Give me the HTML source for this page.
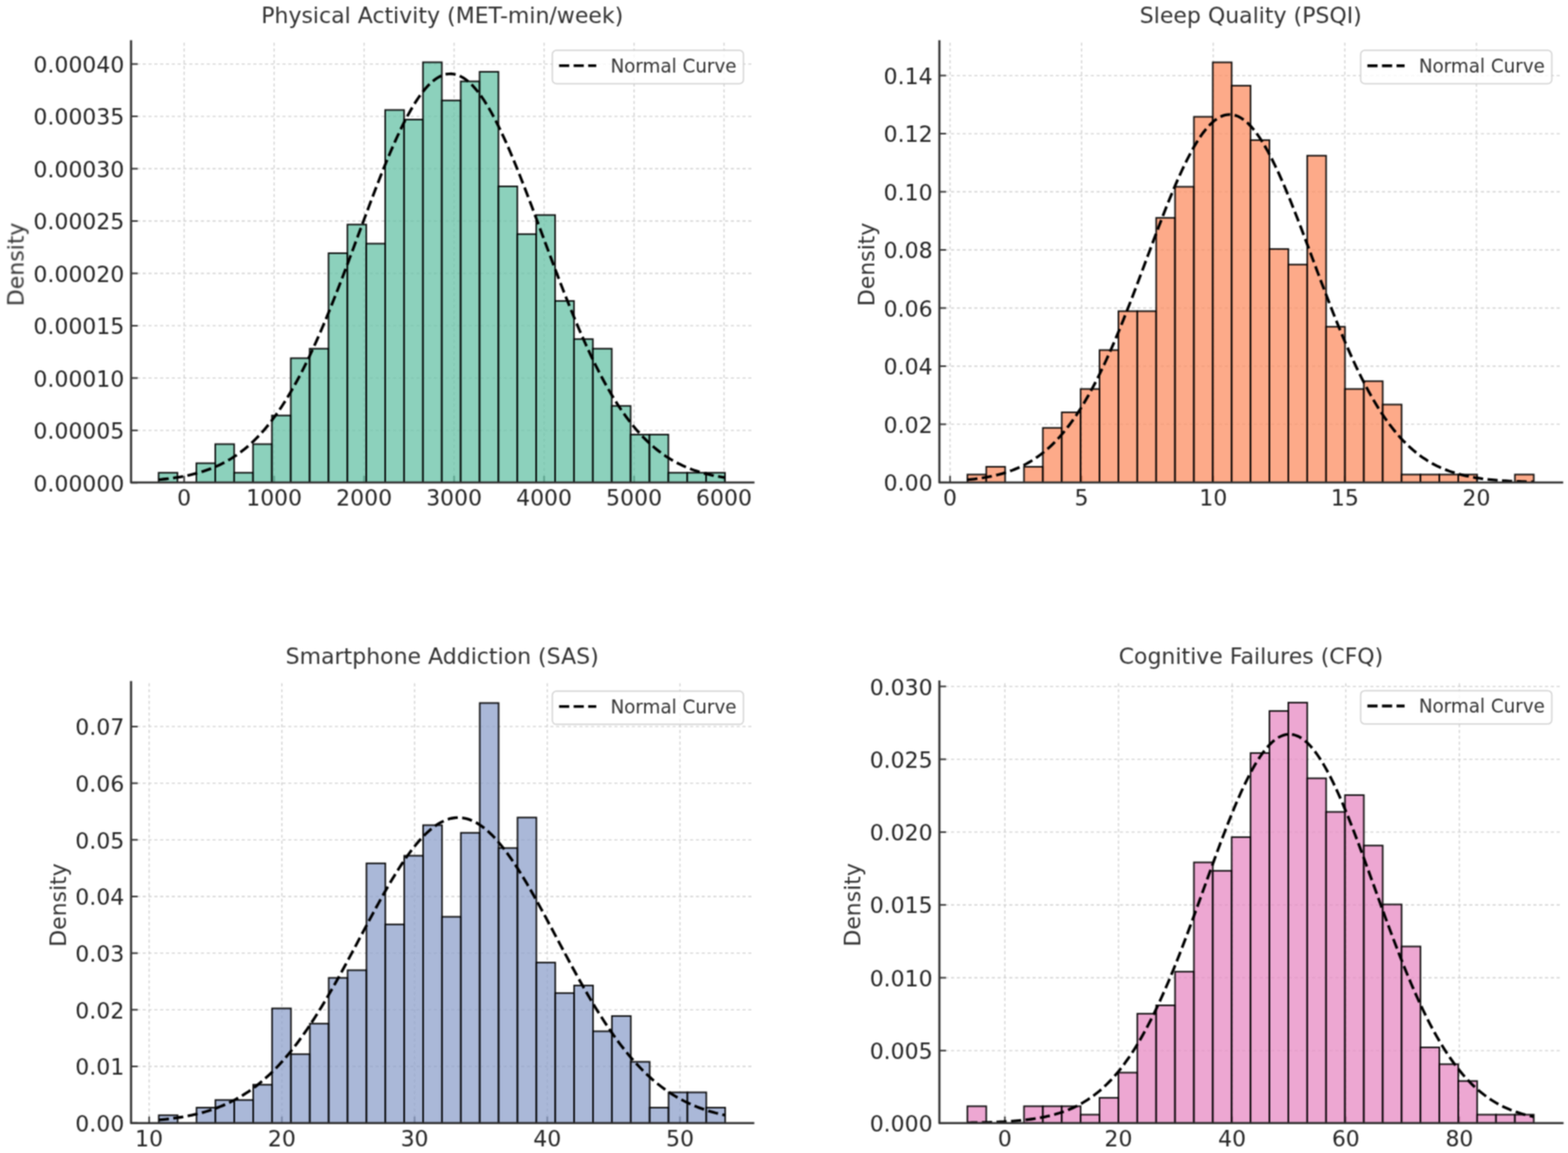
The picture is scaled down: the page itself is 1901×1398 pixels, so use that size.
<!DOCTYPE html>
<html><head><meta charset="utf-8"><title>Histograms</title>
<style>html,body{margin:0;padding:0;background:#fff;overflow:hidden;} svg{display:block;}</style>
</head><body>
<svg width="1901" height="1398" viewBox="0 0 1901 1398" font-family="'DejaVu Sans', 'Liberation Sans', sans-serif">
<rect x="0" y="0" width="1901" height="1398" fill="#ffffff"/>
<defs><filter id="b" x="0" y="0" width="1901" height="1398" filterUnits="userSpaceOnUse" color-interpolation-filters="sRGB"><feConvolveMatrix order="3" kernelMatrix="1 2.0 1 2.0 4.0 2.0 1 2.0 1" divisor="16.0" edgeMode="duplicate"/></filter></defs>
<g filter="url(#b)">
<g><line x1="158.90" y1="585.30" x2="913.40" y2="585.30" stroke="#cfcfcf" stroke-width="1.35" stroke-dasharray="3.7 3.36" fill="none"/>
<line x1="158.90" y1="521.84" x2="913.40" y2="521.84" stroke="#cfcfcf" stroke-width="1.35" stroke-dasharray="3.7 3.36" fill="none"/>
<line x1="158.90" y1="458.38" x2="913.40" y2="458.38" stroke="#cfcfcf" stroke-width="1.35" stroke-dasharray="3.7 3.36" fill="none"/>
<line x1="158.90" y1="394.92" x2="913.40" y2="394.92" stroke="#cfcfcf" stroke-width="1.35" stroke-dasharray="3.7 3.36" fill="none"/>
<line x1="158.90" y1="331.46" x2="913.40" y2="331.46" stroke="#cfcfcf" stroke-width="1.35" stroke-dasharray="3.7 3.36" fill="none"/>
<line x1="158.90" y1="268.00" x2="913.40" y2="268.00" stroke="#cfcfcf" stroke-width="1.35" stroke-dasharray="3.7 3.36" fill="none"/>
<line x1="158.90" y1="204.54" x2="913.40" y2="204.54" stroke="#cfcfcf" stroke-width="1.35" stroke-dasharray="3.7 3.36" fill="none"/>
<line x1="158.90" y1="141.08" x2="913.40" y2="141.08" stroke="#cfcfcf" stroke-width="1.35" stroke-dasharray="3.7 3.36" fill="none"/>
<line x1="158.90" y1="77.62" x2="913.40" y2="77.62" stroke="#cfcfcf" stroke-width="1.35" stroke-dasharray="3.7 3.36" fill="none"/>
<line x1="223.30" y1="585.00" x2="223.30" y2="50.03" stroke="#cfcfcf" stroke-width="1.35" stroke-dasharray="3.7 3.36" fill="none"/>
<line x1="332.38" y1="585.00" x2="332.38" y2="50.03" stroke="#cfcfcf" stroke-width="1.35" stroke-dasharray="3.7 3.36" fill="none"/>
<line x1="441.46" y1="585.00" x2="441.46" y2="50.03" stroke="#cfcfcf" stroke-width="1.35" stroke-dasharray="3.7 3.36" fill="none"/>
<line x1="550.54" y1="585.00" x2="550.54" y2="50.03" stroke="#cfcfcf" stroke-width="1.35" stroke-dasharray="3.7 3.36" fill="none"/>
<line x1="659.62" y1="585.00" x2="659.62" y2="50.03" stroke="#cfcfcf" stroke-width="1.35" stroke-dasharray="3.7 3.36" fill="none"/>
<line x1="768.70" y1="585.00" x2="768.70" y2="50.03" stroke="#cfcfcf" stroke-width="1.35" stroke-dasharray="3.7 3.36" fill="none"/>
<line x1="877.78" y1="585.00" x2="877.78" y2="50.03" stroke="#cfcfcf" stroke-width="1.35" stroke-dasharray="3.7 3.36" fill="none"/>
<line x1="158.90" y1="585.30" x2="166.90" y2="585.30" stroke="#333333" stroke-width="1.9"/>
<line x1="158.90" y1="521.84" x2="166.90" y2="521.84" stroke="#333333" stroke-width="1.9"/>
<line x1="158.90" y1="458.38" x2="166.90" y2="458.38" stroke="#333333" stroke-width="1.9"/>
<line x1="158.90" y1="394.92" x2="166.90" y2="394.92" stroke="#333333" stroke-width="1.9"/>
<line x1="158.90" y1="331.46" x2="166.90" y2="331.46" stroke="#333333" stroke-width="1.9"/>
<line x1="158.90" y1="268.00" x2="166.90" y2="268.00" stroke="#333333" stroke-width="1.9"/>
<line x1="158.90" y1="204.54" x2="166.90" y2="204.54" stroke="#333333" stroke-width="1.9"/>
<line x1="158.90" y1="141.08" x2="166.90" y2="141.08" stroke="#333333" stroke-width="1.9"/>
<line x1="158.90" y1="77.62" x2="166.90" y2="77.62" stroke="#333333" stroke-width="1.9"/>
<line x1="223.30" y1="585.00" x2="223.30" y2="577.00" stroke="#333333" stroke-width="1.9"/>
<line x1="332.38" y1="585.00" x2="332.38" y2="577.00" stroke="#333333" stroke-width="1.9"/>
<line x1="441.46" y1="585.00" x2="441.46" y2="577.00" stroke="#333333" stroke-width="1.9"/>
<line x1="550.54" y1="585.00" x2="550.54" y2="577.00" stroke="#333333" stroke-width="1.9"/>
<line x1="659.62" y1="585.00" x2="659.62" y2="577.00" stroke="#333333" stroke-width="1.9"/>
<line x1="768.70" y1="585.00" x2="768.70" y2="577.00" stroke="#333333" stroke-width="1.9"/>
<line x1="877.78" y1="585.00" x2="877.78" y2="577.00" stroke="#333333" stroke-width="1.9"/>
<rect x="192.30" y="573.22" width="22.89" height="11.78" fill="#66c2a5" fill-opacity="0.75" stroke="#000" stroke-opacity="0.92" stroke-width="1.9"/>
<rect x="238.08" y="561.65" width="22.89" height="23.35" fill="#66c2a5" fill-opacity="0.75" stroke="#000" stroke-opacity="0.92" stroke-width="1.9"/>
<rect x="260.97" y="538.50" width="22.89" height="46.50" fill="#66c2a5" fill-opacity="0.75" stroke="#000" stroke-opacity="0.92" stroke-width="1.9"/>
<rect x="283.86" y="573.22" width="22.89" height="11.78" fill="#66c2a5" fill-opacity="0.75" stroke="#000" stroke-opacity="0.92" stroke-width="1.9"/>
<rect x="306.75" y="538.50" width="22.89" height="46.50" fill="#66c2a5" fill-opacity="0.75" stroke="#000" stroke-opacity="0.92" stroke-width="1.9"/>
<rect x="329.64" y="503.77" width="22.89" height="81.23" fill="#66c2a5" fill-opacity="0.75" stroke="#000" stroke-opacity="0.92" stroke-width="1.9"/>
<rect x="352.53" y="434.32" width="22.89" height="150.68" fill="#66c2a5" fill-opacity="0.75" stroke="#000" stroke-opacity="0.92" stroke-width="1.9"/>
<rect x="375.42" y="422.75" width="22.89" height="162.25" fill="#66c2a5" fill-opacity="0.75" stroke="#000" stroke-opacity="0.92" stroke-width="1.9"/>
<rect x="398.31" y="307.00" width="22.89" height="278.00" fill="#66c2a5" fill-opacity="0.75" stroke="#000" stroke-opacity="0.92" stroke-width="1.9"/>
<rect x="421.20" y="272.27" width="22.89" height="312.73" fill="#66c2a5" fill-opacity="0.75" stroke="#000" stroke-opacity="0.92" stroke-width="1.9"/>
<rect x="444.09" y="295.42" width="22.89" height="289.58" fill="#66c2a5" fill-opacity="0.75" stroke="#000" stroke-opacity="0.92" stroke-width="1.9"/>
<rect x="466.98" y="133.38" width="22.89" height="451.62" fill="#66c2a5" fill-opacity="0.75" stroke="#000" stroke-opacity="0.92" stroke-width="1.9"/>
<rect x="489.87" y="144.95" width="22.89" height="440.05" fill="#66c2a5" fill-opacity="0.75" stroke="#000" stroke-opacity="0.92" stroke-width="1.9"/>
<rect x="512.76" y="75.50" width="22.89" height="509.50" fill="#66c2a5" fill-opacity="0.75" stroke="#000" stroke-opacity="0.92" stroke-width="1.9"/>
<rect x="535.65" y="121.80" width="22.89" height="463.20" fill="#66c2a5" fill-opacity="0.75" stroke="#000" stroke-opacity="0.92" stroke-width="1.9"/>
<rect x="558.54" y="98.65" width="22.89" height="486.35" fill="#66c2a5" fill-opacity="0.75" stroke="#000" stroke-opacity="0.92" stroke-width="1.9"/>
<rect x="581.43" y="87.07" width="22.89" height="497.93" fill="#66c2a5" fill-opacity="0.75" stroke="#000" stroke-opacity="0.92" stroke-width="1.9"/>
<rect x="604.32" y="225.97" width="22.89" height="359.03" fill="#66c2a5" fill-opacity="0.75" stroke="#000" stroke-opacity="0.92" stroke-width="1.9"/>
<rect x="627.21" y="283.85" width="22.89" height="301.15" fill="#66c2a5" fill-opacity="0.75" stroke="#000" stroke-opacity="0.92" stroke-width="1.9"/>
<rect x="650.10" y="260.70" width="22.89" height="324.30" fill="#66c2a5" fill-opacity="0.75" stroke="#000" stroke-opacity="0.92" stroke-width="1.9"/>
<rect x="672.99" y="364.88" width="22.89" height="220.12" fill="#66c2a5" fill-opacity="0.75" stroke="#000" stroke-opacity="0.92" stroke-width="1.9"/>
<rect x="695.88" y="411.17" width="22.89" height="173.83" fill="#66c2a5" fill-opacity="0.75" stroke="#000" stroke-opacity="0.92" stroke-width="1.9"/>
<rect x="718.77" y="422.75" width="22.89" height="162.25" fill="#66c2a5" fill-opacity="0.75" stroke="#000" stroke-opacity="0.92" stroke-width="1.9"/>
<rect x="741.66" y="492.20" width="22.89" height="92.80" fill="#66c2a5" fill-opacity="0.75" stroke="#000" stroke-opacity="0.92" stroke-width="1.9"/>
<rect x="764.55" y="526.92" width="22.89" height="58.08" fill="#66c2a5" fill-opacity="0.75" stroke="#000" stroke-opacity="0.92" stroke-width="1.9"/>
<rect x="787.44" y="526.92" width="22.89" height="58.08" fill="#66c2a5" fill-opacity="0.75" stroke="#000" stroke-opacity="0.92" stroke-width="1.9"/>
<rect x="810.33" y="573.22" width="22.89" height="11.78" fill="#66c2a5" fill-opacity="0.75" stroke="#000" stroke-opacity="0.92" stroke-width="1.9"/>
<rect x="833.22" y="573.22" width="22.89" height="11.78" fill="#66c2a5" fill-opacity="0.75" stroke="#000" stroke-opacity="0.92" stroke-width="1.9"/>
<rect x="856.11" y="573.22" width="22.89" height="11.78" fill="#66c2a5" fill-opacity="0.75" stroke="#000" stroke-opacity="0.92" stroke-width="1.9"/>
<polyline points="192.30,581.60 195.16,581.32 198.02,581.03 200.88,580.72 203.75,580.38 206.61,580.02 209.47,579.63 212.33,579.22 215.19,578.77 218.05,578.30 220.91,577.79 223.77,577.25 226.64,576.67 229.50,576.05 232.36,575.39 235.22,574.69 238.08,573.94 240.94,573.15 243.80,572.30 246.66,571.40 249.53,570.45 252.39,569.44 255.25,568.37 258.11,567.24 260.97,566.04 263.83,564.77 266.69,563.43 269.55,562.02 272.42,560.52 275.28,558.95 278.14,557.30 281.00,555.55 283.86,553.72 286.72,551.80 289.58,549.77 292.44,547.65 295.31,545.43 298.17,543.10 301.03,540.66 303.89,538.11 306.75,535.45 309.61,532.67 312.47,529.77 315.33,526.74 318.20,523.59 321.06,520.31 323.92,516.90 326.78,513.36 329.64,509.68 332.50,505.86 335.36,501.91 338.22,497.81 341.09,493.57 343.95,489.19 346.81,484.66 349.67,479.99 352.53,475.18 355.39,470.21 358.25,465.10 361.11,459.85 363.98,454.45 366.84,448.91 369.70,443.23 372.56,437.40 375.42,431.44 378.28,425.34 381.14,419.11 384.00,412.74 386.87,406.25 389.73,399.64 392.59,392.91 395.45,386.07 398.31,379.12 401.17,372.06 404.03,364.91 406.89,357.67 409.75,350.35 412.62,342.95 415.48,335.47 418.34,327.94 421.20,320.36 424.06,312.73 426.92,305.06 429.78,297.37 432.64,289.66 435.51,281.95 438.37,274.23 441.23,266.54 444.09,258.86 446.95,251.22 449.81,243.63 452.67,236.09 455.54,228.63 458.40,221.24 461.26,213.94 464.12,206.75 466.98,199.67 469.84,192.72 472.70,185.91 475.56,179.24 478.43,172.74 481.29,166.41 484.15,160.26 487.01,154.30 489.87,148.55 492.73,143.01 495.59,137.70 498.45,132.63 501.32,127.79 504.18,123.21 507.04,118.89 509.90,114.84 512.76,111.07 515.62,107.59 518.48,104.39 521.34,101.49 524.21,98.90 527.07,96.61 529.93,94.64 532.79,92.98 535.65,91.64 538.51,90.62 541.37,89.93 544.23,89.57 547.10,89.53 549.96,89.82 552.82,90.43 555.68,91.37 558.54,92.64 561.40,94.22 564.26,96.12 567.12,98.33 569.99,100.85 572.85,103.68 575.71,106.81 578.57,110.23 581.43,113.93 584.29,117.92 587.15,122.17 590.01,126.69 592.88,131.47 595.74,136.49 598.60,141.75 601.46,147.23 604.32,152.93 607.18,158.84 610.04,164.95 612.90,171.24 615.77,177.70 618.63,184.33 621.49,191.11 624.35,198.03 627.21,205.08 630.07,212.25 632.93,219.52 635.79,226.89 638.66,234.34 641.52,241.86 644.38,249.44 647.24,257.07 650.10,264.73 652.96,272.43 655.82,280.14 658.68,287.85 661.55,295.56 664.41,303.26 667.27,310.93 670.13,318.57 672.99,326.17 675.85,333.71 678.71,341.20 681.57,348.62 684.44,355.96 687.30,363.22 690.16,370.40 693.02,377.47 695.88,384.45 698.74,391.32 701.60,398.07 704.46,404.71 707.33,411.23 710.19,417.63 713.05,423.89 715.91,430.02 718.77,436.01 721.63,441.87 724.49,447.59 727.35,453.16 730.22,458.60 733.08,463.88 735.94,469.03 738.80,474.02 741.66,478.88 744.52,483.58 747.38,488.14 750.24,492.56 753.11,496.83 755.97,500.96 758.83,504.95 761.69,508.80 764.55,512.51 767.41,516.08 770.27,519.52 773.13,522.83 776.00,526.01 778.86,529.07 781.72,532.00 784.58,534.81 787.44,537.50 790.30,540.08 793.16,542.54 796.02,544.89 798.89,547.14 801.75,549.29 804.61,551.33 807.47,553.28 810.33,555.13 813.19,556.90 816.05,558.57 818.91,560.16 821.78,561.67 824.64,563.10 827.50,564.46 830.36,565.75 833.22,566.96 836.08,568.11 838.94,569.19 841.80,570.22 844.66,571.18 847.53,572.09 850.39,572.95 853.25,573.76 856.11,574.52 858.97,575.23 861.83,575.90 864.69,576.53 867.56,577.12 870.42,577.67 873.28,578.18 876.14,578.67 879.00,579.12" fill="none" stroke="#000" stroke-width="3.33" stroke-dasharray="12.33 5.33"/>
<path d="M158.90,50.03 L158.90,585.00 L913.40,585.00" fill="none" stroke="#333333" stroke-width="2.6" stroke-linecap="square" stroke-linejoin="round"/>
<text x="150.70" y="595.50" font-size="26.65" fill="#262626" text-anchor="end">0.00000</text>
<text x="150.70" y="532.04" font-size="26.65" fill="#262626" text-anchor="end">0.00005</text>
<text x="150.70" y="468.58" font-size="26.65" fill="#262626" text-anchor="end">0.00010</text>
<text x="150.70" y="405.12" font-size="26.65" fill="#262626" text-anchor="end">0.00015</text>
<text x="150.70" y="341.66" font-size="26.65" fill="#262626" text-anchor="end">0.00020</text>
<text x="150.70" y="278.20" font-size="26.65" fill="#262626" text-anchor="end">0.00025</text>
<text x="150.70" y="214.74" font-size="26.65" fill="#262626" text-anchor="end">0.00030</text>
<text x="150.70" y="151.28" font-size="26.65" fill="#262626" text-anchor="end">0.00035</text>
<text x="150.70" y="87.82" font-size="26.65" fill="#262626" text-anchor="end">0.00040</text>
<text x="223.30" y="612.90" font-size="26.65" fill="#262626" text-anchor="middle">0</text>
<text x="332.38" y="612.90" font-size="26.65" fill="#262626" text-anchor="middle">1000</text>
<text x="441.46" y="612.90" font-size="26.65" fill="#262626" text-anchor="middle">2000</text>
<text x="550.54" y="612.90" font-size="26.65" fill="#262626" text-anchor="middle">3000</text>
<text x="659.62" y="612.90" font-size="26.65" fill="#262626" text-anchor="middle">4000</text>
<text x="768.70" y="612.90" font-size="26.65" fill="#262626" text-anchor="middle">5000</text>
<text x="877.78" y="612.90" font-size="26.65" fill="#262626" text-anchor="middle">6000</text>
<text x="536.15" y="27.60" font-size="26.7" fill="#333333" text-anchor="middle">Physical Activity (MET-min/week)</text>
<text transform="translate(28.60,320.52) rotate(-90)" font-size="26.65" fill="#333333" text-anchor="middle">Density</text>
<rect x="669.60" y="61.03" width="231.80" height="40.40" rx="5" ry="5" fill="#ffffff" fill-opacity="0.8" stroke="#d0d0d0" stroke-width="1.5"/>
<line x1="677.80" y1="79.63" x2="722.90" y2="79.63" stroke="#000" stroke-width="3.33" stroke-dasharray="12.33 5.33"/>
<text x="740.20" y="87.63" font-size="22.2" fill="#333333">Normal Curve</text></g>
<g><line x1="1138.90" y1="584.90" x2="1893.90" y2="584.90" stroke="#cfcfcf" stroke-width="1.35" stroke-dasharray="3.7 3.36" fill="none"/>
<line x1="1138.90" y1="514.42" x2="1893.90" y2="514.42" stroke="#cfcfcf" stroke-width="1.35" stroke-dasharray="3.7 3.36" fill="none"/>
<line x1="1138.90" y1="443.95" x2="1893.90" y2="443.95" stroke="#cfcfcf" stroke-width="1.35" stroke-dasharray="3.7 3.36" fill="none"/>
<line x1="1138.90" y1="373.48" x2="1893.90" y2="373.48" stroke="#cfcfcf" stroke-width="1.35" stroke-dasharray="3.7 3.36" fill="none"/>
<line x1="1138.90" y1="303.00" x2="1893.90" y2="303.00" stroke="#cfcfcf" stroke-width="1.35" stroke-dasharray="3.7 3.36" fill="none"/>
<line x1="1138.90" y1="232.52" x2="1893.90" y2="232.52" stroke="#cfcfcf" stroke-width="1.35" stroke-dasharray="3.7 3.36" fill="none"/>
<line x1="1138.90" y1="162.05" x2="1893.90" y2="162.05" stroke="#cfcfcf" stroke-width="1.35" stroke-dasharray="3.7 3.36" fill="none"/>
<line x1="1138.90" y1="91.57" x2="1893.90" y2="91.57" stroke="#cfcfcf" stroke-width="1.35" stroke-dasharray="3.7 3.36" fill="none"/>
<line x1="1151.80" y1="585.00" x2="1151.80" y2="50.12" stroke="#cfcfcf" stroke-width="1.35" stroke-dasharray="3.7 3.36" fill="none"/>
<line x1="1311.35" y1="585.00" x2="1311.35" y2="50.12" stroke="#cfcfcf" stroke-width="1.35" stroke-dasharray="3.7 3.36" fill="none"/>
<line x1="1470.90" y1="585.00" x2="1470.90" y2="50.12" stroke="#cfcfcf" stroke-width="1.35" stroke-dasharray="3.7 3.36" fill="none"/>
<line x1="1630.45" y1="585.00" x2="1630.45" y2="50.12" stroke="#cfcfcf" stroke-width="1.35" stroke-dasharray="3.7 3.36" fill="none"/>
<line x1="1790.00" y1="585.00" x2="1790.00" y2="50.12" stroke="#cfcfcf" stroke-width="1.35" stroke-dasharray="3.7 3.36" fill="none"/>
<line x1="1138.90" y1="584.90" x2="1146.90" y2="584.90" stroke="#333333" stroke-width="1.9"/>
<line x1="1138.90" y1="514.42" x2="1146.90" y2="514.42" stroke="#333333" stroke-width="1.9"/>
<line x1="1138.90" y1="443.95" x2="1146.90" y2="443.95" stroke="#333333" stroke-width="1.9"/>
<line x1="1138.90" y1="373.48" x2="1146.90" y2="373.48" stroke="#333333" stroke-width="1.9"/>
<line x1="1138.90" y1="303.00" x2="1146.90" y2="303.00" stroke="#333333" stroke-width="1.9"/>
<line x1="1138.90" y1="232.52" x2="1146.90" y2="232.52" stroke="#333333" stroke-width="1.9"/>
<line x1="1138.90" y1="162.05" x2="1146.90" y2="162.05" stroke="#333333" stroke-width="1.9"/>
<line x1="1138.90" y1="91.57" x2="1146.90" y2="91.57" stroke="#333333" stroke-width="1.9"/>
<line x1="1151.80" y1="585.00" x2="1151.80" y2="577.00" stroke="#333333" stroke-width="1.9"/>
<line x1="1311.35" y1="585.00" x2="1311.35" y2="577.00" stroke="#333333" stroke-width="1.9"/>
<line x1="1470.90" y1="585.00" x2="1470.90" y2="577.00" stroke="#333333" stroke-width="1.9"/>
<line x1="1630.45" y1="585.00" x2="1630.45" y2="577.00" stroke="#333333" stroke-width="1.9"/>
<line x1="1790.00" y1="585.00" x2="1790.00" y2="577.00" stroke="#333333" stroke-width="1.9"/>
<rect x="1172.80" y="575.37" width="22.89" height="9.63" fill="#fc8d62" fill-opacity="0.75" stroke="#000" stroke-opacity="0.92" stroke-width="1.9"/>
<rect x="1195.69" y="565.94" width="22.89" height="19.06" fill="#fc8d62" fill-opacity="0.75" stroke="#000" stroke-opacity="0.92" stroke-width="1.9"/>
<rect x="1241.47" y="565.94" width="22.89" height="19.06" fill="#fc8d62" fill-opacity="0.75" stroke="#000" stroke-opacity="0.92" stroke-width="1.9"/>
<rect x="1264.36" y="518.79" width="22.89" height="66.21" fill="#fc8d62" fill-opacity="0.75" stroke="#000" stroke-opacity="0.92" stroke-width="1.9"/>
<rect x="1287.25" y="499.93" width="22.89" height="85.07" fill="#fc8d62" fill-opacity="0.75" stroke="#000" stroke-opacity="0.92" stroke-width="1.9"/>
<rect x="1310.14" y="471.64" width="22.89" height="113.36" fill="#fc8d62" fill-opacity="0.75" stroke="#000" stroke-opacity="0.92" stroke-width="1.9"/>
<rect x="1333.03" y="424.49" width="22.89" height="160.51" fill="#fc8d62" fill-opacity="0.75" stroke="#000" stroke-opacity="0.92" stroke-width="1.9"/>
<rect x="1355.92" y="377.34" width="22.89" height="207.66" fill="#fc8d62" fill-opacity="0.75" stroke="#000" stroke-opacity="0.92" stroke-width="1.9"/>
<rect x="1378.81" y="377.34" width="22.89" height="207.66" fill="#fc8d62" fill-opacity="0.75" stroke="#000" stroke-opacity="0.92" stroke-width="1.9"/>
<rect x="1401.70" y="264.18" width="22.89" height="320.82" fill="#fc8d62" fill-opacity="0.75" stroke="#000" stroke-opacity="0.92" stroke-width="1.9"/>
<rect x="1424.59" y="226.46" width="22.89" height="358.54" fill="#fc8d62" fill-opacity="0.75" stroke="#000" stroke-opacity="0.92" stroke-width="1.9"/>
<rect x="1447.48" y="141.59" width="22.89" height="443.41" fill="#fc8d62" fill-opacity="0.75" stroke="#000" stroke-opacity="0.92" stroke-width="1.9"/>
<rect x="1470.37" y="75.58" width="22.89" height="509.42" fill="#fc8d62" fill-opacity="0.75" stroke="#000" stroke-opacity="0.92" stroke-width="1.9"/>
<rect x="1493.26" y="103.87" width="22.89" height="481.13" fill="#fc8d62" fill-opacity="0.75" stroke="#000" stroke-opacity="0.92" stroke-width="1.9"/>
<rect x="1516.15" y="169.88" width="22.89" height="415.12" fill="#fc8d62" fill-opacity="0.75" stroke="#000" stroke-opacity="0.92" stroke-width="1.9"/>
<rect x="1539.04" y="301.90" width="22.89" height="283.10" fill="#fc8d62" fill-opacity="0.75" stroke="#000" stroke-opacity="0.92" stroke-width="1.9"/>
<rect x="1561.93" y="320.76" width="22.89" height="264.24" fill="#fc8d62" fill-opacity="0.75" stroke="#000" stroke-opacity="0.92" stroke-width="1.9"/>
<rect x="1584.82" y="188.74" width="22.89" height="396.26" fill="#fc8d62" fill-opacity="0.75" stroke="#000" stroke-opacity="0.92" stroke-width="1.9"/>
<rect x="1607.71" y="396.20" width="22.89" height="188.80" fill="#fc8d62" fill-opacity="0.75" stroke="#000" stroke-opacity="0.92" stroke-width="1.9"/>
<rect x="1630.60" y="471.64" width="22.89" height="113.36" fill="#fc8d62" fill-opacity="0.75" stroke="#000" stroke-opacity="0.92" stroke-width="1.9"/>
<rect x="1653.49" y="462.21" width="22.89" height="122.79" fill="#fc8d62" fill-opacity="0.75" stroke="#000" stroke-opacity="0.92" stroke-width="1.9"/>
<rect x="1676.38" y="490.50" width="22.89" height="94.50" fill="#fc8d62" fill-opacity="0.75" stroke="#000" stroke-opacity="0.92" stroke-width="1.9"/>
<rect x="1699.27" y="575.37" width="22.89" height="9.63" fill="#fc8d62" fill-opacity="0.75" stroke="#000" stroke-opacity="0.92" stroke-width="1.9"/>
<rect x="1722.16" y="575.37" width="22.89" height="9.63" fill="#fc8d62" fill-opacity="0.75" stroke="#000" stroke-opacity="0.92" stroke-width="1.9"/>
<rect x="1745.05" y="575.37" width="22.89" height="9.63" fill="#fc8d62" fill-opacity="0.75" stroke="#000" stroke-opacity="0.92" stroke-width="1.9"/>
<rect x="1767.94" y="575.37" width="22.89" height="9.63" fill="#fc8d62" fill-opacity="0.75" stroke="#000" stroke-opacity="0.92" stroke-width="1.9"/>
<rect x="1836.61" y="575.37" width="22.89" height="9.63" fill="#fc8d62" fill-opacity="0.75" stroke="#000" stroke-opacity="0.92" stroke-width="1.9"/>
<polyline points="1172.80,581.72 1175.66,581.44 1178.52,581.13 1181.38,580.79 1184.24,580.43 1187.11,580.03 1189.97,579.61 1192.83,579.15 1195.69,578.66 1198.55,578.13 1201.41,577.56 1204.27,576.95 1207.13,576.30 1210.00,575.59 1212.86,574.84 1215.72,574.03 1218.58,573.17 1221.44,572.25 1224.30,571.26 1227.16,570.22 1230.02,569.10 1232.89,567.91 1235.75,566.64 1238.61,565.30 1241.47,563.87 1244.33,562.36 1247.19,560.76 1250.05,559.06 1252.91,557.27 1255.78,555.37 1258.64,553.37 1261.50,551.26 1264.36,549.04 1267.22,546.70 1270.08,544.24 1272.94,541.65 1275.81,538.94 1278.67,536.10 1281.53,533.12 1284.39,530.01 1287.25,526.75 1290.11,523.35 1292.97,519.80 1295.83,516.11 1298.69,512.26 1301.56,508.26 1304.42,504.10 1307.28,499.79 1310.14,495.31 1313.00,490.68 1315.86,485.89 1318.72,480.94 1321.59,475.82 1324.45,470.55 1327.31,465.12 1330.17,459.53 1333.03,453.79 1335.89,447.89 1338.75,441.84 1341.61,435.65 1344.47,429.31 1347.34,422.84 1350.20,416.23 1353.06,409.49 1355.92,402.63 1358.78,395.65 1361.64,388.57 1364.50,381.38 1367.37,374.10 1370.23,366.74 1373.09,359.30 1375.95,351.79 1378.81,344.23 1381.67,336.62 1384.53,328.98 1387.39,321.31 1390.25,313.64 1393.12,305.96 1395.98,298.30 1398.84,290.67 1401.70,283.07 1404.56,275.53 1407.42,268.06 1410.28,260.66 1413.14,253.36 1416.01,246.17 1418.87,239.10 1421.73,232.17 1424.59,225.39 1427.45,218.77 1430.31,212.34 1433.17,206.09 1436.03,200.05 1438.90,194.23 1441.76,188.64 1444.62,183.29 1447.48,178.20 1450.34,173.37 1453.20,168.82 1456.06,164.57 1458.92,160.61 1461.79,156.95 1464.65,153.62 1467.51,150.61 1470.37,147.92 1473.23,145.58 1476.09,143.58 1478.95,141.93 1481.82,140.63 1484.68,139.68 1487.54,139.09 1490.40,138.86 1493.26,138.99 1496.12,139.48 1498.98,140.33 1501.84,141.53 1504.70,143.08 1507.57,144.99 1510.43,147.23 1513.29,149.82 1516.15,152.74 1519.01,155.99 1521.87,159.55 1524.73,163.43 1527.60,167.60 1530.46,172.07 1533.32,176.82 1536.18,181.83 1539.04,187.11 1541.90,192.63 1544.76,198.39 1547.62,204.37 1550.49,210.56 1553.35,216.95 1556.21,223.52 1559.07,230.25 1561.93,237.14 1564.79,244.18 1567.65,251.33 1570.51,258.60 1573.38,265.97 1576.24,273.43 1579.10,280.95 1581.96,288.53 1584.82,296.16 1587.68,303.81 1590.54,311.49 1593.40,319.16 1596.26,326.83 1599.13,334.48 1601.99,342.10 1604.85,349.68 1607.71,357.20 1610.57,364.66 1613.43,372.05 1616.29,379.35 1619.15,386.56 1622.02,393.68 1624.88,400.69 1627.74,407.58 1630.60,414.35 1633.46,421.00 1636.32,427.51 1639.18,433.89 1642.05,440.12 1644.91,446.21 1647.77,452.15 1650.63,457.94 1653.49,463.57 1656.35,469.04 1659.21,474.36 1662.07,479.52 1664.93,484.52 1667.80,489.35 1670.66,494.03 1673.52,498.55 1676.38,502.91 1679.24,507.11 1682.10,511.15 1684.96,515.04 1687.83,518.78 1690.69,522.37 1693.55,525.81 1696.41,529.11 1699.27,532.26 1702.13,535.28 1704.99,538.16 1707.85,540.90 1710.72,543.52 1713.58,546.02 1716.44,548.39 1719.30,550.65 1722.16,552.79 1725.02,554.82 1727.88,556.74 1730.74,558.57 1733.61,560.29 1736.47,561.92 1739.33,563.46 1742.19,564.91 1745.05,566.27 1747.91,567.56 1750.77,568.77 1753.63,569.91 1756.49,570.98 1759.36,571.98 1762.22,572.92 1765.08,573.80 1767.94,574.62 1770.80,575.39 1773.66,576.10 1776.52,576.77 1779.39,577.40 1782.25,577.98 1785.11,578.52 1787.97,579.02 1790.83,579.49 1793.69,579.92 1796.55,580.32 1799.41,580.69 1802.28,581.03 1805.14,581.35 1808.00,581.64 1810.86,581.92 1813.72,582.17 1816.58,582.40 1819.44,582.61 1822.30,582.80 1825.16,582.98 1828.03,583.14 1830.89,583.30 1833.75,583.43 1836.61,583.56 1839.47,583.68 1842.33,583.78 1845.19,583.88 1848.05,583.97 1850.92,584.05 1853.78,584.12 1856.64,584.18 1859.50,584.25" fill="none" stroke="#000" stroke-width="3.33" stroke-dasharray="12.33 5.33"/>
<path d="M1138.90,50.12 L1138.90,585.00 L1893.90,585.00" fill="none" stroke="#333333" stroke-width="2.6" stroke-linecap="square" stroke-linejoin="round"/>
<text x="1130.70" y="595.10" font-size="26.65" fill="#262626" text-anchor="end">0.00</text>
<text x="1130.70" y="524.62" font-size="26.65" fill="#262626" text-anchor="end">0.02</text>
<text x="1130.70" y="454.15" font-size="26.65" fill="#262626" text-anchor="end">0.04</text>
<text x="1130.70" y="383.68" font-size="26.65" fill="#262626" text-anchor="end">0.06</text>
<text x="1130.70" y="313.20" font-size="26.65" fill="#262626" text-anchor="end">0.08</text>
<text x="1130.70" y="242.72" font-size="26.65" fill="#262626" text-anchor="end">0.10</text>
<text x="1130.70" y="172.25" font-size="26.65" fill="#262626" text-anchor="end">0.12</text>
<text x="1130.70" y="101.77" font-size="26.65" fill="#262626" text-anchor="end">0.14</text>
<text x="1151.80" y="612.90" font-size="26.65" fill="#262626" text-anchor="middle">0</text>
<text x="1311.35" y="612.90" font-size="26.65" fill="#262626" text-anchor="middle">5</text>
<text x="1470.90" y="612.90" font-size="26.65" fill="#262626" text-anchor="middle">10</text>
<text x="1630.45" y="612.90" font-size="26.65" fill="#262626" text-anchor="middle">15</text>
<text x="1790.00" y="612.90" font-size="26.65" fill="#262626" text-anchor="middle">20</text>
<text x="1516.40" y="27.60" font-size="26.7" fill="#333333" text-anchor="middle">Sleep Quality (PSQI)</text>
<text transform="translate(1059.60,320.56) rotate(-90)" font-size="26.65" fill="#333333" text-anchor="middle">Density</text>
<rect x="1649.60" y="61.12" width="231.80" height="40.40" rx="5" ry="5" fill="#ffffff" fill-opacity="0.8" stroke="#d0d0d0" stroke-width="1.5"/>
<line x1="1657.80" y1="79.72" x2="1702.90" y2="79.72" stroke="#000" stroke-width="3.33" stroke-dasharray="12.33 5.33"/>
<text x="1720.20" y="87.72" font-size="22.2" fill="#333333">Normal Curve</text></g>
<g><line x1="158.90" y1="1361.70" x2="913.20" y2="1361.70" stroke="#cfcfcf" stroke-width="1.35" stroke-dasharray="3.7 3.36" fill="none"/>
<line x1="158.90" y1="1293.02" x2="913.20" y2="1293.02" stroke="#cfcfcf" stroke-width="1.35" stroke-dasharray="3.7 3.36" fill="none"/>
<line x1="158.90" y1="1224.34" x2="913.20" y2="1224.34" stroke="#cfcfcf" stroke-width="1.35" stroke-dasharray="3.7 3.36" fill="none"/>
<line x1="158.90" y1="1155.66" x2="913.20" y2="1155.66" stroke="#cfcfcf" stroke-width="1.35" stroke-dasharray="3.7 3.36" fill="none"/>
<line x1="158.90" y1="1086.98" x2="913.20" y2="1086.98" stroke="#cfcfcf" stroke-width="1.35" stroke-dasharray="3.7 3.36" fill="none"/>
<line x1="158.90" y1="1018.30" x2="913.20" y2="1018.30" stroke="#cfcfcf" stroke-width="1.35" stroke-dasharray="3.7 3.36" fill="none"/>
<line x1="158.90" y1="949.62" x2="913.20" y2="949.62" stroke="#cfcfcf" stroke-width="1.35" stroke-dasharray="3.7 3.36" fill="none"/>
<line x1="158.90" y1="880.94" x2="913.20" y2="880.94" stroke="#cfcfcf" stroke-width="1.35" stroke-dasharray="3.7 3.36" fill="none"/>
<line x1="180.80" y1="1361.80" x2="180.80" y2="826.97" stroke="#cfcfcf" stroke-width="1.35" stroke-dasharray="3.7 3.36" fill="none"/>
<line x1="341.70" y1="1361.80" x2="341.70" y2="826.97" stroke="#cfcfcf" stroke-width="1.35" stroke-dasharray="3.7 3.36" fill="none"/>
<line x1="502.60" y1="1361.80" x2="502.60" y2="826.97" stroke="#cfcfcf" stroke-width="1.35" stroke-dasharray="3.7 3.36" fill="none"/>
<line x1="663.50" y1="1361.80" x2="663.50" y2="826.97" stroke="#cfcfcf" stroke-width="1.35" stroke-dasharray="3.7 3.36" fill="none"/>
<line x1="824.40" y1="1361.80" x2="824.40" y2="826.97" stroke="#cfcfcf" stroke-width="1.35" stroke-dasharray="3.7 3.36" fill="none"/>
<line x1="158.90" y1="1361.70" x2="166.90" y2="1361.70" stroke="#333333" stroke-width="1.9"/>
<line x1="158.90" y1="1293.02" x2="166.90" y2="1293.02" stroke="#333333" stroke-width="1.9"/>
<line x1="158.90" y1="1224.34" x2="166.90" y2="1224.34" stroke="#333333" stroke-width="1.9"/>
<line x1="158.90" y1="1155.66" x2="166.90" y2="1155.66" stroke="#333333" stroke-width="1.9"/>
<line x1="158.90" y1="1086.98" x2="166.90" y2="1086.98" stroke="#333333" stroke-width="1.9"/>
<line x1="158.90" y1="1018.30" x2="166.90" y2="1018.30" stroke="#333333" stroke-width="1.9"/>
<line x1="158.90" y1="949.62" x2="166.90" y2="949.62" stroke="#333333" stroke-width="1.9"/>
<line x1="158.90" y1="880.94" x2="166.90" y2="880.94" stroke="#333333" stroke-width="1.9"/>
<line x1="180.80" y1="1361.80" x2="180.80" y2="1353.80" stroke="#333333" stroke-width="1.9"/>
<line x1="341.70" y1="1361.80" x2="341.70" y2="1353.80" stroke="#333333" stroke-width="1.9"/>
<line x1="502.60" y1="1361.80" x2="502.60" y2="1353.80" stroke="#333333" stroke-width="1.9"/>
<line x1="663.50" y1="1361.80" x2="663.50" y2="1353.80" stroke="#333333" stroke-width="1.9"/>
<line x1="824.40" y1="1361.80" x2="824.40" y2="1353.80" stroke="#333333" stroke-width="1.9"/>
<rect x="192.50" y="1352.24" width="22.89" height="9.56" fill="#8da0cb" fill-opacity="0.75" stroke="#000" stroke-opacity="0.92" stroke-width="1.9"/>
<rect x="238.28" y="1342.99" width="22.89" height="18.81" fill="#8da0cb" fill-opacity="0.75" stroke="#000" stroke-opacity="0.92" stroke-width="1.9"/>
<rect x="261.17" y="1333.73" width="22.89" height="28.07" fill="#8da0cb" fill-opacity="0.75" stroke="#000" stroke-opacity="0.92" stroke-width="1.9"/>
<rect x="284.06" y="1333.73" width="22.89" height="28.07" fill="#8da0cb" fill-opacity="0.75" stroke="#000" stroke-opacity="0.92" stroke-width="1.9"/>
<rect x="306.95" y="1315.22" width="22.89" height="46.58" fill="#8da0cb" fill-opacity="0.75" stroke="#000" stroke-opacity="0.92" stroke-width="1.9"/>
<rect x="329.84" y="1222.66" width="22.89" height="139.14" fill="#8da0cb" fill-opacity="0.75" stroke="#000" stroke-opacity="0.92" stroke-width="1.9"/>
<rect x="352.73" y="1278.20" width="22.89" height="83.60" fill="#8da0cb" fill-opacity="0.75" stroke="#000" stroke-opacity="0.92" stroke-width="1.9"/>
<rect x="375.62" y="1241.17" width="22.89" height="120.63" fill="#8da0cb" fill-opacity="0.75" stroke="#000" stroke-opacity="0.92" stroke-width="1.9"/>
<rect x="398.51" y="1185.64" width="22.89" height="176.16" fill="#8da0cb" fill-opacity="0.75" stroke="#000" stroke-opacity="0.92" stroke-width="1.9"/>
<rect x="421.40" y="1176.38" width="22.89" height="185.42" fill="#8da0cb" fill-opacity="0.75" stroke="#000" stroke-opacity="0.92" stroke-width="1.9"/>
<rect x="444.29" y="1046.80" width="22.89" height="315.00" fill="#8da0cb" fill-opacity="0.75" stroke="#000" stroke-opacity="0.92" stroke-width="1.9"/>
<rect x="467.18" y="1120.84" width="22.89" height="240.96" fill="#8da0cb" fill-opacity="0.75" stroke="#000" stroke-opacity="0.92" stroke-width="1.9"/>
<rect x="490.07" y="1037.54" width="22.89" height="324.26" fill="#8da0cb" fill-opacity="0.75" stroke="#000" stroke-opacity="0.92" stroke-width="1.9"/>
<rect x="512.96" y="1000.52" width="22.89" height="361.28" fill="#8da0cb" fill-opacity="0.75" stroke="#000" stroke-opacity="0.92" stroke-width="1.9"/>
<rect x="535.85" y="1111.59" width="22.89" height="250.21" fill="#8da0cb" fill-opacity="0.75" stroke="#000" stroke-opacity="0.92" stroke-width="1.9"/>
<rect x="558.74" y="1009.77" width="22.89" height="352.03" fill="#8da0cb" fill-opacity="0.75" stroke="#000" stroke-opacity="0.92" stroke-width="1.9"/>
<rect x="581.63" y="852.42" width="22.89" height="509.38" fill="#8da0cb" fill-opacity="0.75" stroke="#000" stroke-opacity="0.92" stroke-width="1.9"/>
<rect x="604.52" y="1028.28" width="22.89" height="333.52" fill="#8da0cb" fill-opacity="0.75" stroke="#000" stroke-opacity="0.92" stroke-width="1.9"/>
<rect x="627.41" y="991.26" width="22.89" height="370.54" fill="#8da0cb" fill-opacity="0.75" stroke="#000" stroke-opacity="0.92" stroke-width="1.9"/>
<rect x="650.30" y="1167.12" width="22.89" height="194.68" fill="#8da0cb" fill-opacity="0.75" stroke="#000" stroke-opacity="0.92" stroke-width="1.9"/>
<rect x="673.19" y="1204.15" width="22.89" height="157.65" fill="#8da0cb" fill-opacity="0.75" stroke="#000" stroke-opacity="0.92" stroke-width="1.9"/>
<rect x="696.08" y="1194.89" width="22.89" height="166.91" fill="#8da0cb" fill-opacity="0.75" stroke="#000" stroke-opacity="0.92" stroke-width="1.9"/>
<rect x="718.97" y="1250.43" width="22.89" height="111.37" fill="#8da0cb" fill-opacity="0.75" stroke="#000" stroke-opacity="0.92" stroke-width="1.9"/>
<rect x="741.86" y="1231.92" width="22.89" height="129.88" fill="#8da0cb" fill-opacity="0.75" stroke="#000" stroke-opacity="0.92" stroke-width="1.9"/>
<rect x="764.75" y="1287.45" width="22.89" height="74.35" fill="#8da0cb" fill-opacity="0.75" stroke="#000" stroke-opacity="0.92" stroke-width="1.9"/>
<rect x="787.64" y="1342.99" width="22.89" height="18.81" fill="#8da0cb" fill-opacity="0.75" stroke="#000" stroke-opacity="0.92" stroke-width="1.9"/>
<rect x="810.53" y="1324.48" width="22.89" height="37.32" fill="#8da0cb" fill-opacity="0.75" stroke="#000" stroke-opacity="0.92" stroke-width="1.9"/>
<rect x="833.42" y="1324.48" width="22.89" height="37.32" fill="#8da0cb" fill-opacity="0.75" stroke="#000" stroke-opacity="0.92" stroke-width="1.9"/>
<rect x="856.31" y="1342.99" width="22.89" height="18.81" fill="#8da0cb" fill-opacity="0.75" stroke="#000" stroke-opacity="0.92" stroke-width="1.9"/>
<polyline points="192.50,1357.92 195.36,1357.65 198.22,1357.36 201.08,1357.06 203.94,1356.73 206.81,1356.38 209.67,1356.01 212.53,1355.62 215.39,1355.20 218.25,1354.75 221.11,1354.28 223.97,1353.78 226.84,1353.25 229.70,1352.69 232.56,1352.09 235.42,1351.46 238.28,1350.80 241.14,1350.09 244.00,1349.35 246.86,1348.57 249.72,1347.74 252.59,1346.87 255.45,1345.96 258.31,1344.99 261.17,1343.98 264.03,1342.92 266.89,1341.80 269.75,1340.62 272.62,1339.39 275.48,1338.10 278.34,1336.75 281.20,1335.34 284.06,1333.86 286.92,1332.32 289.78,1330.70 292.64,1329.02 295.50,1327.26 298.37,1325.43 301.23,1323.53 304.09,1321.54 306.95,1319.48 309.81,1317.33 312.67,1315.10 315.53,1312.79 318.39,1310.39 321.26,1307.91 324.12,1305.34 326.98,1302.67 329.84,1299.92 332.70,1297.07 335.56,1294.13 338.42,1291.10 341.28,1287.98 344.15,1284.76 347.01,1281.44 349.87,1278.03 352.73,1274.53 355.59,1270.92 358.45,1267.23 361.31,1263.44 364.18,1259.56 367.04,1255.58 369.90,1251.51 372.76,1247.36 375.62,1243.11 378.48,1238.77 381.34,1234.35 384.20,1229.85 387.07,1225.27 389.93,1220.61 392.79,1215.87 395.65,1211.06 398.51,1206.18 401.37,1201.23 404.23,1196.22 407.09,1191.16 409.96,1186.04 412.82,1180.87 415.68,1175.65 418.54,1170.39 421.40,1165.10 424.26,1159.78 427.12,1154.43 429.98,1149.07 432.85,1143.69 435.71,1138.30 438.57,1132.91 441.43,1127.53 444.29,1122.16 447.15,1116.80 450.01,1111.47 452.87,1106.17 455.74,1100.91 458.60,1095.69 461.46,1090.53 464.32,1085.42 467.18,1080.38 470.04,1075.41 472.90,1070.52 475.76,1065.72 478.62,1061.02 481.49,1056.41 484.35,1051.91 487.21,1047.53 490.07,1043.27 492.93,1039.13 495.79,1035.13 498.65,1031.27 501.52,1027.56 504.38,1024.00 507.24,1020.60 510.10,1017.36 512.96,1014.29 515.82,1011.40 518.68,1008.69 521.54,1006.16 524.40,1003.81 527.27,1001.66 530.13,999.71 532.99,997.95 535.85,996.40 538.71,995.05 541.57,993.91 544.43,992.97 547.30,992.25 550.16,991.74 553.02,991.44 555.88,991.35 558.74,991.48 561.60,991.82 564.46,992.38 567.32,993.14 570.19,994.11 573.05,995.30 575.91,996.69 578.77,998.28 581.63,1000.07 584.49,1002.07 587.35,1004.26 590.21,1006.64 593.08,1009.20 595.94,1011.95 598.80,1014.88 601.66,1017.98 604.52,1021.25 607.38,1024.68 610.24,1028.27 613.10,1032.01 615.97,1035.90 618.83,1039.93 621.69,1044.09 624.55,1048.37 627.41,1052.78 630.27,1057.30 633.13,1061.93 635.99,1066.65 638.86,1071.47 641.72,1076.37 644.58,1081.36 647.44,1086.41 650.30,1091.53 653.16,1096.71 656.02,1101.93 658.88,1107.20 661.75,1112.51 664.61,1117.84 667.47,1123.20 670.33,1128.58 673.19,1133.96 676.05,1139.35 678.91,1144.74 681.77,1150.11 684.63,1155.48 687.50,1160.82 690.36,1166.14 693.22,1171.42 696.08,1176.67 698.94,1181.88 701.80,1187.04 704.66,1192.15 707.53,1197.20 710.39,1202.20 713.25,1207.13 716.11,1212.00 718.97,1216.80 721.83,1221.52 724.69,1226.17 727.55,1230.74 730.42,1235.22 733.28,1239.63 736.14,1243.94 739.00,1248.17 741.86,1252.31 744.72,1256.36 747.58,1260.32 750.44,1264.19 753.31,1267.96 756.17,1271.63 759.03,1275.22 761.89,1278.70 764.75,1282.09 767.61,1285.39 770.47,1288.59 773.33,1291.70 776.20,1294.71 779.06,1297.63 781.92,1300.46 784.78,1303.20 787.64,1305.84 790.50,1308.40 793.36,1310.87 796.22,1313.25 799.09,1315.54 801.95,1317.76 804.81,1319.89 807.67,1321.93 810.53,1323.90 813.39,1325.79 816.25,1327.61 819.11,1329.35 821.98,1331.02 824.84,1332.62 827.70,1334.15 830.56,1335.62 833.42,1337.02 836.28,1338.36 839.14,1339.64 842.00,1340.86 844.87,1342.02 847.73,1343.13 850.59,1344.18 853.45,1345.19 856.31,1346.14 859.17,1347.05 862.03,1347.91 864.89,1348.72 867.75,1349.50 870.62,1350.23 873.48,1350.93 876.34,1351.59 879.20,1352.21" fill="none" stroke="#000" stroke-width="3.33" stroke-dasharray="12.33 5.33"/>
<path d="M158.90,826.97 L158.90,1361.80 L913.20,1361.80" fill="none" stroke="#333333" stroke-width="2.6" stroke-linecap="square" stroke-linejoin="round"/>
<text x="150.70" y="1371.90" font-size="26.65" fill="#262626" text-anchor="end">0.00</text>
<text x="150.70" y="1303.22" font-size="26.65" fill="#262626" text-anchor="end">0.01</text>
<text x="150.70" y="1234.54" font-size="26.65" fill="#262626" text-anchor="end">0.02</text>
<text x="150.70" y="1165.86" font-size="26.65" fill="#262626" text-anchor="end">0.03</text>
<text x="150.70" y="1097.18" font-size="26.65" fill="#262626" text-anchor="end">0.04</text>
<text x="150.70" y="1028.50" font-size="26.65" fill="#262626" text-anchor="end">0.05</text>
<text x="150.70" y="959.82" font-size="26.65" fill="#262626" text-anchor="end">0.06</text>
<text x="150.70" y="891.14" font-size="26.65" fill="#262626" text-anchor="end">0.07</text>
<text x="180.80" y="1389.70" font-size="26.65" fill="#262626" text-anchor="middle">10</text>
<text x="341.70" y="1389.70" font-size="26.65" fill="#262626" text-anchor="middle">20</text>
<text x="502.60" y="1389.70" font-size="26.65" fill="#262626" text-anchor="middle">30</text>
<text x="663.50" y="1389.70" font-size="26.65" fill="#262626" text-anchor="middle">40</text>
<text x="824.40" y="1389.70" font-size="26.65" fill="#262626" text-anchor="middle">50</text>
<text x="536.05" y="804.60" font-size="26.7" fill="#333333" text-anchor="middle">Smartphone Addiction (SAS)</text>
<text transform="translate(80.10,1097.33) rotate(-90)" font-size="26.65" fill="#333333" text-anchor="middle">Density</text>
<rect x="669.60" y="837.97" width="231.80" height="40.40" rx="5" ry="5" fill="#ffffff" fill-opacity="0.8" stroke="#d0d0d0" stroke-width="1.5"/>
<line x1="677.80" y1="856.57" x2="722.90" y2="856.57" stroke="#000" stroke-width="3.33" stroke-dasharray="12.33 5.33"/>
<text x="740.20" y="864.57" font-size="22.2" fill="#333333">Normal Curve</text></g>
<g><line x1="1138.90" y1="1362.10" x2="1894.30" y2="1362.10" stroke="#cfcfcf" stroke-width="1.35" stroke-dasharray="3.7 3.36" fill="none"/>
<line x1="1138.90" y1="1273.80" x2="1894.30" y2="1273.80" stroke="#cfcfcf" stroke-width="1.35" stroke-dasharray="3.7 3.36" fill="none"/>
<line x1="1138.90" y1="1185.50" x2="1894.30" y2="1185.50" stroke="#cfcfcf" stroke-width="1.35" stroke-dasharray="3.7 3.36" fill="none"/>
<line x1="1138.90" y1="1097.20" x2="1894.30" y2="1097.20" stroke="#cfcfcf" stroke-width="1.35" stroke-dasharray="3.7 3.36" fill="none"/>
<line x1="1138.90" y1="1008.90" x2="1894.30" y2="1008.90" stroke="#cfcfcf" stroke-width="1.35" stroke-dasharray="3.7 3.36" fill="none"/>
<line x1="1138.90" y1="920.60" x2="1894.30" y2="920.60" stroke="#cfcfcf" stroke-width="1.35" stroke-dasharray="3.7 3.36" fill="none"/>
<line x1="1138.90" y1="832.30" x2="1894.30" y2="832.30" stroke="#cfcfcf" stroke-width="1.35" stroke-dasharray="3.7 3.36" fill="none"/>
<line x1="1218.30" y1="1361.80" x2="1218.30" y2="826.41" stroke="#cfcfcf" stroke-width="1.35" stroke-dasharray="3.7 3.36" fill="none"/>
<line x1="1356.06" y1="1361.80" x2="1356.06" y2="826.41" stroke="#cfcfcf" stroke-width="1.35" stroke-dasharray="3.7 3.36" fill="none"/>
<line x1="1493.82" y1="1361.80" x2="1493.82" y2="826.41" stroke="#cfcfcf" stroke-width="1.35" stroke-dasharray="3.7 3.36" fill="none"/>
<line x1="1631.58" y1="1361.80" x2="1631.58" y2="826.41" stroke="#cfcfcf" stroke-width="1.35" stroke-dasharray="3.7 3.36" fill="none"/>
<line x1="1769.34" y1="1361.80" x2="1769.34" y2="826.41" stroke="#cfcfcf" stroke-width="1.35" stroke-dasharray="3.7 3.36" fill="none"/>
<line x1="1138.90" y1="1362.10" x2="1146.90" y2="1362.10" stroke="#333333" stroke-width="1.9"/>
<line x1="1138.90" y1="1273.80" x2="1146.90" y2="1273.80" stroke="#333333" stroke-width="1.9"/>
<line x1="1138.90" y1="1185.50" x2="1146.90" y2="1185.50" stroke="#333333" stroke-width="1.9"/>
<line x1="1138.90" y1="1097.20" x2="1146.90" y2="1097.20" stroke="#333333" stroke-width="1.9"/>
<line x1="1138.90" y1="1008.90" x2="1146.90" y2="1008.90" stroke="#333333" stroke-width="1.9"/>
<line x1="1138.90" y1="920.60" x2="1146.90" y2="920.60" stroke="#333333" stroke-width="1.9"/>
<line x1="1138.90" y1="832.30" x2="1146.90" y2="832.30" stroke="#333333" stroke-width="1.9"/>
<line x1="1218.30" y1="1361.80" x2="1218.30" y2="1353.80" stroke="#333333" stroke-width="1.9"/>
<line x1="1356.06" y1="1361.80" x2="1356.06" y2="1353.80" stroke="#333333" stroke-width="1.9"/>
<line x1="1493.82" y1="1361.80" x2="1493.82" y2="1353.80" stroke="#333333" stroke-width="1.9"/>
<line x1="1631.58" y1="1361.80" x2="1631.58" y2="1353.80" stroke="#333333" stroke-width="1.9"/>
<line x1="1769.34" y1="1361.80" x2="1769.34" y2="1353.80" stroke="#333333" stroke-width="1.9"/>
<rect x="1172.80" y="1341.31" width="22.89" height="20.49" fill="#e78ac3" fill-opacity="0.75" stroke="#000" stroke-opacity="0.92" stroke-width="1.9"/>
<rect x="1241.47" y="1341.31" width="22.89" height="20.49" fill="#e78ac3" fill-opacity="0.75" stroke="#000" stroke-opacity="0.92" stroke-width="1.9"/>
<rect x="1264.36" y="1341.31" width="22.89" height="20.49" fill="#e78ac3" fill-opacity="0.75" stroke="#000" stroke-opacity="0.92" stroke-width="1.9"/>
<rect x="1287.25" y="1341.31" width="22.89" height="20.49" fill="#e78ac3" fill-opacity="0.75" stroke="#000" stroke-opacity="0.92" stroke-width="1.9"/>
<rect x="1310.14" y="1351.50" width="22.89" height="10.30" fill="#e78ac3" fill-opacity="0.75" stroke="#000" stroke-opacity="0.92" stroke-width="1.9"/>
<rect x="1333.03" y="1331.11" width="22.89" height="30.69" fill="#e78ac3" fill-opacity="0.75" stroke="#000" stroke-opacity="0.92" stroke-width="1.9"/>
<rect x="1355.92" y="1300.52" width="22.89" height="61.28" fill="#e78ac3" fill-opacity="0.75" stroke="#000" stroke-opacity="0.92" stroke-width="1.9"/>
<rect x="1378.81" y="1229.15" width="22.89" height="132.65" fill="#e78ac3" fill-opacity="0.75" stroke="#000" stroke-opacity="0.92" stroke-width="1.9"/>
<rect x="1401.70" y="1218.96" width="22.89" height="142.84" fill="#e78ac3" fill-opacity="0.75" stroke="#000" stroke-opacity="0.92" stroke-width="1.9"/>
<rect x="1424.59" y="1178.17" width="22.89" height="183.63" fill="#e78ac3" fill-opacity="0.75" stroke="#000" stroke-opacity="0.92" stroke-width="1.9"/>
<rect x="1447.48" y="1045.62" width="22.89" height="316.18" fill="#e78ac3" fill-opacity="0.75" stroke="#000" stroke-opacity="0.92" stroke-width="1.9"/>
<rect x="1470.37" y="1055.82" width="22.89" height="305.98" fill="#e78ac3" fill-opacity="0.75" stroke="#000" stroke-opacity="0.92" stroke-width="1.9"/>
<rect x="1493.26" y="1015.04" width="22.89" height="346.76" fill="#e78ac3" fill-opacity="0.75" stroke="#000" stroke-opacity="0.92" stroke-width="1.9"/>
<rect x="1516.15" y="913.08" width="22.89" height="448.72" fill="#e78ac3" fill-opacity="0.75" stroke="#000" stroke-opacity="0.92" stroke-width="1.9"/>
<rect x="1539.04" y="862.10" width="22.89" height="499.70" fill="#e78ac3" fill-opacity="0.75" stroke="#000" stroke-opacity="0.92" stroke-width="1.9"/>
<rect x="1561.93" y="851.90" width="22.89" height="509.90" fill="#e78ac3" fill-opacity="0.75" stroke="#000" stroke-opacity="0.92" stroke-width="1.9"/>
<rect x="1584.82" y="943.66" width="22.89" height="418.14" fill="#e78ac3" fill-opacity="0.75" stroke="#000" stroke-opacity="0.92" stroke-width="1.9"/>
<rect x="1607.71" y="984.45" width="22.89" height="377.35" fill="#e78ac3" fill-opacity="0.75" stroke="#000" stroke-opacity="0.92" stroke-width="1.9"/>
<rect x="1630.60" y="964.06" width="22.89" height="397.74" fill="#e78ac3" fill-opacity="0.75" stroke="#000" stroke-opacity="0.92" stroke-width="1.9"/>
<rect x="1653.49" y="1025.23" width="22.89" height="336.57" fill="#e78ac3" fill-opacity="0.75" stroke="#000" stroke-opacity="0.92" stroke-width="1.9"/>
<rect x="1676.38" y="1096.60" width="22.89" height="265.20" fill="#e78ac3" fill-opacity="0.75" stroke="#000" stroke-opacity="0.92" stroke-width="1.9"/>
<rect x="1699.27" y="1147.58" width="22.89" height="214.22" fill="#e78ac3" fill-opacity="0.75" stroke="#000" stroke-opacity="0.92" stroke-width="1.9"/>
<rect x="1722.16" y="1269.94" width="22.89" height="91.86" fill="#e78ac3" fill-opacity="0.75" stroke="#000" stroke-opacity="0.92" stroke-width="1.9"/>
<rect x="1745.05" y="1290.33" width="22.89" height="71.47" fill="#e78ac3" fill-opacity="0.75" stroke="#000" stroke-opacity="0.92" stroke-width="1.9"/>
<rect x="1767.94" y="1310.72" width="22.89" height="51.08" fill="#e78ac3" fill-opacity="0.75" stroke="#000" stroke-opacity="0.92" stroke-width="1.9"/>
<rect x="1790.83" y="1351.50" width="22.89" height="10.30" fill="#e78ac3" fill-opacity="0.75" stroke="#000" stroke-opacity="0.92" stroke-width="1.9"/>
<rect x="1813.72" y="1351.50" width="22.89" height="10.30" fill="#e78ac3" fill-opacity="0.75" stroke="#000" stroke-opacity="0.92" stroke-width="1.9"/>
<rect x="1836.61" y="1351.50" width="22.89" height="10.30" fill="#e78ac3" fill-opacity="0.75" stroke="#000" stroke-opacity="0.92" stroke-width="1.9"/>
<polyline points="1172.80,1361.34 1175.66,1361.30 1178.52,1361.25 1181.38,1361.20 1184.24,1361.15 1187.11,1361.09 1189.97,1361.03 1192.83,1360.96 1195.69,1360.88 1198.55,1360.79 1201.41,1360.70 1204.27,1360.60 1207.13,1360.49 1210.00,1360.37 1212.86,1360.23 1215.72,1360.09 1218.58,1359.93 1221.44,1359.76 1224.30,1359.58 1227.16,1359.37 1230.02,1359.15 1232.89,1358.92 1235.75,1358.66 1238.61,1358.38 1241.47,1358.08 1244.33,1357.75 1247.19,1357.40 1250.05,1357.02 1252.91,1356.61 1255.78,1356.17 1258.64,1355.70 1261.50,1355.18 1264.36,1354.64 1267.22,1354.05 1270.08,1353.42 1272.94,1352.74 1275.81,1352.02 1278.67,1351.24 1281.53,1350.41 1284.39,1349.53 1287.25,1348.58 1290.11,1347.58 1292.97,1346.51 1295.83,1345.37 1298.69,1344.15 1301.56,1342.87 1304.42,1341.50 1307.28,1340.05 1310.14,1338.52 1313.00,1336.89 1315.86,1335.17 1318.72,1333.36 1321.59,1331.44 1324.45,1329.42 1327.31,1327.29 1330.17,1325.05 1333.03,1322.69 1335.89,1320.22 1338.75,1317.62 1341.61,1314.89 1344.47,1312.03 1347.34,1309.04 1350.20,1305.91 1353.06,1302.64 1355.92,1299.23 1358.78,1295.67 1361.64,1291.96 1364.50,1288.10 1367.37,1284.09 1370.23,1279.92 1373.09,1275.59 1375.95,1271.10 1378.81,1266.46 1381.67,1261.65 1384.53,1256.68 1387.39,1251.55 1390.25,1246.25 1393.12,1240.80 1395.98,1235.18 1398.84,1229.41 1401.70,1223.48 1404.56,1217.39 1407.42,1211.16 1410.28,1204.77 1413.14,1198.24 1416.01,1191.57 1418.87,1184.76 1421.73,1177.82 1424.59,1170.75 1427.45,1163.57 1430.31,1156.28 1433.17,1148.88 1436.03,1141.38 1438.90,1133.80 1441.76,1126.13 1444.62,1118.40 1447.48,1110.61 1450.34,1102.76 1453.20,1094.88 1456.06,1086.96 1458.92,1079.03 1461.79,1071.10 1464.65,1063.17 1467.51,1055.27 1470.37,1047.39 1473.23,1039.56 1476.09,1031.79 1478.95,1024.10 1481.82,1016.49 1484.68,1008.98 1487.54,1001.58 1490.40,994.31 1493.26,987.18 1496.12,980.21 1498.98,973.41 1501.84,966.80 1504.70,960.37 1507.57,954.16 1510.43,948.17 1513.29,942.42 1516.15,936.91 1519.01,931.66 1521.87,926.68 1524.73,921.99 1527.60,917.58 1530.46,913.48 1533.32,909.68 1536.18,906.21 1539.04,903.06 1541.90,900.24 1544.76,897.77 1547.62,895.64 1550.49,893.86 1553.35,892.44 1556.21,891.37 1559.07,890.67 1561.93,890.33 1564.79,890.35 1567.65,890.73 1570.51,891.48 1573.38,892.58 1576.24,894.04 1579.10,895.86 1581.96,898.03 1584.82,900.54 1587.68,903.40 1590.54,906.58 1593.40,910.09 1596.26,913.92 1599.13,918.06 1601.99,922.50 1604.85,927.23 1607.71,932.24 1610.57,937.52 1613.43,943.05 1616.29,948.83 1619.15,954.85 1622.02,961.08 1624.88,967.53 1627.74,974.17 1630.60,980.99 1633.46,987.98 1636.32,995.12 1639.18,1002.40 1642.05,1009.81 1644.91,1017.34 1647.77,1024.96 1650.63,1032.66 1653.49,1040.44 1656.35,1048.27 1659.21,1056.15 1662.07,1064.06 1664.93,1071.99 1667.80,1079.93 1670.66,1087.85 1673.52,1095.76 1676.38,1103.64 1679.24,1111.48 1682.10,1119.27 1684.96,1127.00 1687.83,1134.65 1690.69,1142.23 1693.55,1149.71 1696.41,1157.10 1699.27,1164.38 1702.13,1171.55 1704.99,1178.60 1707.85,1185.53 1710.72,1192.32 1713.58,1198.98 1716.44,1205.49 1719.30,1211.86 1722.16,1218.08 1725.02,1224.15 1727.88,1230.07 1730.74,1235.82 1733.61,1241.42 1736.47,1246.86 1739.33,1252.13 1742.19,1257.24 1745.05,1262.20 1747.91,1266.99 1750.77,1271.62 1753.63,1276.08 1756.49,1280.39 1759.36,1284.55 1762.22,1288.54 1765.08,1292.38 1767.94,1296.08 1770.80,1299.62 1773.66,1303.02 1776.52,1306.27 1779.39,1309.38 1782.25,1312.36 1785.11,1315.20 1787.97,1317.91 1790.83,1320.50 1793.69,1322.96 1796.55,1325.31 1799.41,1327.54 1802.28,1329.65 1805.14,1331.66 1808.00,1333.57 1810.86,1335.37 1813.72,1337.08 1816.58,1338.69 1819.44,1340.22 1822.30,1341.66 1825.16,1343.02 1828.03,1344.29 1830.89,1345.50 1833.75,1346.63 1836.61,1347.69 1839.47,1348.69 1842.33,1349.63 1845.19,1350.51 1848.05,1351.33 1850.92,1352.10 1853.78,1352.82 1856.64,1353.49 1859.50,1354.12" fill="none" stroke="#000" stroke-width="3.33" stroke-dasharray="12.33 5.33"/>
<path d="M1138.90,826.41 L1138.90,1361.80 L1894.30,1361.80" fill="none" stroke="#333333" stroke-width="2.6" stroke-linecap="square" stroke-linejoin="round"/>
<text x="1130.70" y="1372.30" font-size="26.65" fill="#262626" text-anchor="end">0.000</text>
<text x="1130.70" y="1284.00" font-size="26.65" fill="#262626" text-anchor="end">0.005</text>
<text x="1130.70" y="1195.70" font-size="26.65" fill="#262626" text-anchor="end">0.010</text>
<text x="1130.70" y="1107.40" font-size="26.65" fill="#262626" text-anchor="end">0.015</text>
<text x="1130.70" y="1019.10" font-size="26.65" fill="#262626" text-anchor="end">0.020</text>
<text x="1130.70" y="930.80" font-size="26.65" fill="#262626" text-anchor="end">0.025</text>
<text x="1130.70" y="842.50" font-size="26.65" fill="#262626" text-anchor="end">0.030</text>
<text x="1218.30" y="1389.70" font-size="26.65" fill="#262626" text-anchor="middle">0</text>
<text x="1356.06" y="1389.70" font-size="26.65" fill="#262626" text-anchor="middle">20</text>
<text x="1493.82" y="1389.70" font-size="26.65" fill="#262626" text-anchor="middle">40</text>
<text x="1631.58" y="1389.70" font-size="26.65" fill="#262626" text-anchor="middle">60</text>
<text x="1769.34" y="1389.70" font-size="26.65" fill="#262626" text-anchor="middle">80</text>
<text x="1516.60" y="804.60" font-size="26.7" fill="#333333" text-anchor="middle">Cognitive Failures (CFQ)</text>
<text transform="translate(1043.00,1097.15) rotate(-90)" font-size="26.65" fill="#333333" text-anchor="middle">Density</text>
<rect x="1649.60" y="837.41" width="231.80" height="40.40" rx="5" ry="5" fill="#ffffff" fill-opacity="0.8" stroke="#d0d0d0" stroke-width="1.5"/>
<line x1="1657.80" y1="856.01" x2="1702.90" y2="856.01" stroke="#000" stroke-width="3.33" stroke-dasharray="12.33 5.33"/>
<text x="1720.20" y="864.01" font-size="22.2" fill="#333333">Normal Curve</text></g>
</g></svg>
</body></html>
